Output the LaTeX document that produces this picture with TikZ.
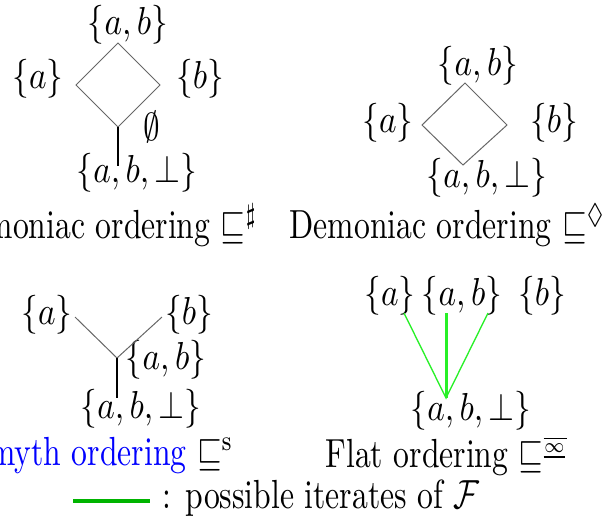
\documentclass[tikz,border=0pt]{standalone}
\usepackage{amssymb}
\usetikzlibrary{positioning}
\definecolor{itergreen}{RGB}{40,240,40}
\definecolor{legendgreen}{RGB}{0,180,0}
\definecolor{smythblue}{RGB}{0,0,255}
% the labels of the reference are set a little taller than wide
\newcommand{\setlab}[1]{\scalebox{1}[1.17]{#1}}
\newcommand{\captlab}[1]{\scalebox{0.95}[1.22]{#1}}
\tikzset{
  setlbl/.style={inner sep=0pt},
  capt/.style={inner sep=0pt},
  hasse/.style={draw=black!60, line width=0.3pt},
  stem/.style={draw=black, line width=0.4pt},
  iter/.style={draw=itergreen, line width=0.4pt},
  iterbold/.style={draw=itergreen, line width=0.9pt},
  legline/.style={draw=legendgreen, line width=1.2pt}}

\begin{document}
\begin{tikzpicture}[x=0.3pt, y=-0.3pt]
  \useasboundingbox (0,0) rectangle (615,522);
  \clip (0,0) rectangle (615,522);

  % demoniac ordering (sharp)
  \node[setlbl] (shAB)  at (128,25)  {\setlab{$\{a,b\}$}};
  \node[setlbl] (shA)   at (38,79)   {\setlab{$\{a\}$}};
  \node[setlbl] (shB)   at (200,79)  {\setlab{$\{b\}$}};
  \node[setlbl] (shE)   at (152,127) {\setlab{$\emptyset$}};
  \node[setlbl] (shBot) at (137,173) {\setlab{$\{a,b,\bot\}$}};
  \coordinate (shT) at (118,43);
  \coordinate (shL) at (76,85);
  \coordinate (shR) at (160,85);
  \coordinate (shD) at (118,127);
  \coordinate (shS) at (118,166);
  \draw[hasse] (shT) -- (shL) -- (shD) -- (shR) -- cycle;
  \draw[stem] (shD) -- (shS);
  \node[capt, anchor=base east] (shCap) at (258,238)
    {\captlab{Demoniac ordering $\sqsubseteq^{\sharp}$}};

  % demoniac ordering (diamond)
  \node[setlbl] (dmAB)  at (478,66)  {\setlab{$\{a,b\}$}};
  \node[setlbl] (dmA)   at (388,123) {\setlab{$\{a\}$}};
  \node[setlbl] (dmB)   at (554,123) {\setlab{$\{b\}$}};
  \node[setlbl] (dmBot) at (487,178) {\setlab{$\{a,b,\bot\}$}};
  \coordinate (dmT) at (465,83);
  \coordinate (dmL) at (422,125);
  \coordinate (dmR) at (507,125);
  \coordinate (dmD) at (463,165);
  \draw[hasse] (dmT) -- (dmL) -- (dmD) -- (dmR) -- cycle;
  \node[capt, anchor=base west] (dmCap) at (289,238)
    {\captlab{Demoniac ordering $\sqsubseteq^{\Diamond}$}};

  % smyth ordering
  \node[setlbl] (smA)   at (47,315)  {\setlab{$\{a\}$}};
  \node[setlbl] (smB)   at (189,315) {\setlab{$\{b\}$}};
  \node[setlbl] (smAB)  at (166,360) {\setlab{$\{a,b\}$}};
  \node[setlbl] (smBot) at (141,409) {\setlab{$\{a,b,\bot\}$}};
  \coordinate (smL) at (75,317);
  \coordinate (smR) at (162,317);
  \coordinate (smJ) at (117,358);
  \coordinate (smS) at (117,398);
  \draw[hasse] (smL) -- (smJ) -- (smR);
  \draw[stem] (smJ) -- (smS);
  \node[capt, anchor=base east] (smCap) at (234,465)
    {\captlab{\textcolor{smythblue}{Smyth ordering} $\sqsubseteq^{\mathrm{s}}$}};

  % flat ordering
  \node[setlbl] (flA)   at (390,296) {\setlab{$\{a\}$}};
  \node[setlbl] (flAB)  at (462,296) {\setlab{$\{a,b\}$}};
  \node[setlbl] (flB)   at (542,296) {\setlab{$\{b\}$}};
  \node[setlbl] (flBot) at (471,411) {\setlab{$\{a,b,\bot\}$}};
  \coordinate (flLa) at (404,313);
  \coordinate (flLab) at (446,313);
  \coordinate (flLb) at (488,313);
  \coordinate (flJ) at (446,398);
  \draw[iter] (flLa) -- (flJ) -- (flLb);
  \draw[iterbold] (flLab) -- (flJ);
  \node[capt, anchor=base west] (flCap) at (325,467)
    {\captlab{Flat ordering $\sqsubseteq^{\overline{\underline{\scriptscriptstyle\infty}}}$}};

  % legend
  \coordinate (lgS) at (73,501);
  \coordinate (lgE) at (150,501);
  \draw[legline] (lgS) -- (lgE);
  \node[capt, anchor=base west] (lgTxt) at (162,508)
    {\captlab{: possible iterates of $\mathcal{F}$}};
\end{tikzpicture}
\end{document}
